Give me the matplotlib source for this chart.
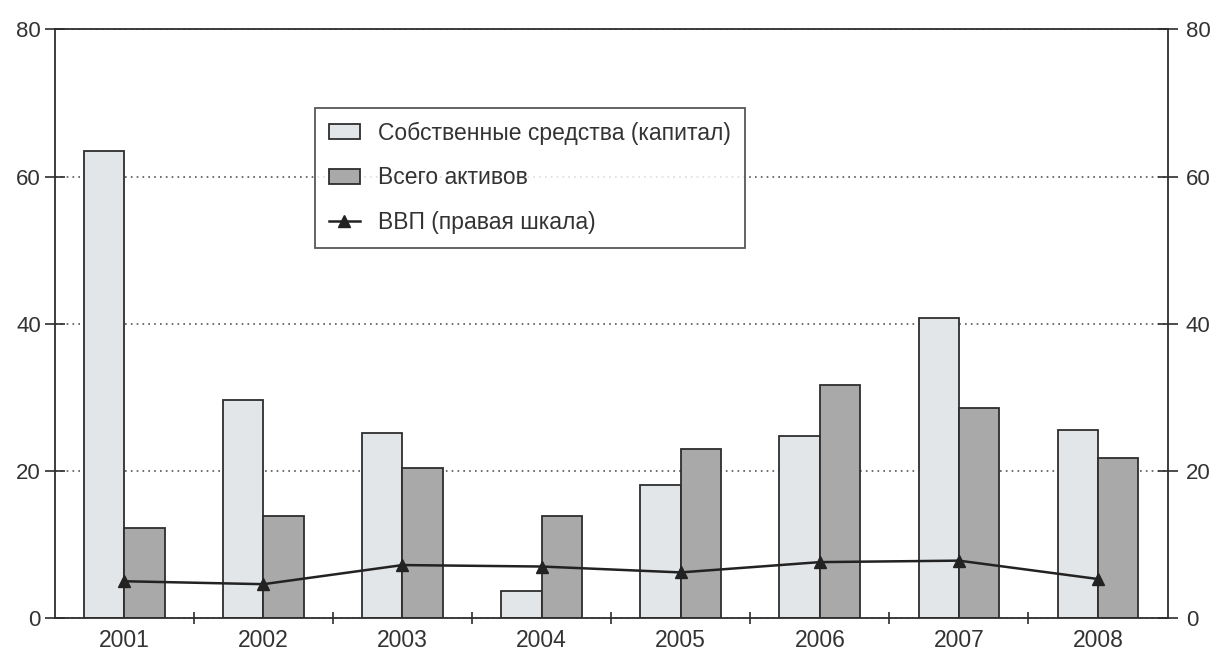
import matplotlib.pyplot as plt
import numpy as np
from matplotlib.lines import Line2D
from matplotlib.patches import Patch

plt.rcParams["font.family"] = ["Liberation Sans", "DejaVu Sans"]

YEARS = ["2001", "2002", "2003", "2004", "2005", "2006", "2007", "2008"]
EQUITY = [63.5, 29.7, 25.1, 3.7, 18.1, 24.7, 40.8, 25.6]
ASSETS = [12.3, 13.9, 20.4, 13.8, 23.0, 31.7, 28.5, 21.8]
GDP = [5.0, 4.6, 7.2, 7.0, 6.2, 7.6, 7.8, 5.3]

LABELS = ["Собственные средства (капитал)", "Всего активов", "ВВП (правая шкала)"]
LIGHT = "#e3e6e9"
DARK = "#a9a9a9"
EDGE = "#2e2e2e"
TEXT = "#333333"

fig = plt.figure(figsize=(12.15, 6.54), dpi=100)
ax = fig.add_axes([0.045, 0.055, 0.916, 0.9])

x = np.arange(len(YEARS))
width = 0.29
ax.bar(x - width / 2, EQUITY, width, color=LIGHT, edgecolor=EDGE, linewidth=1.3, zorder=2)
ax.bar(x + width / 2, ASSETS, width, color=DARK, edgecolor=EDGE, linewidth=1.3, zorder=2)

ax.set_xlim(-0.5, len(YEARS) - 0.5)
ax.set_ylim(0, 80)
ax.set_yticks([0, 20, 40, 60, 80])
ax.yaxis.grid(True, linestyle=(0, (1, 2.5)), color="#555555", linewidth=1.2)
ax.set_axisbelow(True)

# year labels centred on groups, tick marks on group boundaries
ax.set_xticks(x)
ax.set_xticklabels(YEARS, fontsize=16.5, color=TEXT)
ax.tick_params(axis="x", length=0, pad=8)
ax.set_xticks(np.arange(0.5, len(YEARS) - 0.5), minor=True)
ax.tick_params(axis="x", which="minor", direction="inout", length=8, width=1.2, color=EDGE)
ax.tick_params(axis="y", direction="inout", length=14, width=1.2, color=EDGE,
               labelsize=16, labelcolor=TEXT, pad=3)

for spine in ax.spines.values():
    spine.set_color(EDGE)
    spine.set_linewidth(1.3)

ax2 = ax.twinx()
ax2.set_ylim(0, 80)
ax2.set_yticks([0, 20, 40, 60, 80])
ax2.tick_params(axis="y", direction="inout", length=14, width=1.2, color=EDGE,
                labelsize=16, labelcolor=TEXT, pad=6)
ax2.plot(x, GDP, color="#222222", linewidth=1.8, marker="^", markersize=9, zorder=3)
for spine in ax2.spines.values():
    spine.set_visible(False)

handles = [
    Patch(facecolor=LIGHT, edgecolor=EDGE, linewidth=1.3),
    Patch(facecolor=DARK, edgecolor=EDGE, linewidth=1.3),
    Line2D([], [], color="#222222", linewidth=1.8, marker="^", markersize=8),
]
leg = ax2.legend(handles, LABELS, loc="upper left", bbox_to_anchor=(0.234, 0.867),
                 borderaxespad=0, fontsize=16.5, frameon=True, fancybox=False,
                 labelspacing=0.95, handlelength=1.35, handleheight=0.65,
                 borderpad=0.6, handletextpad=0.8)
leg.get_frame().set_edgecolor(EDGE)
leg.get_frame().set_linewidth(1.3)
for t in leg.get_texts():
    t.set_color(TEXT)

fig.savefig("out.png", dpi=100)
